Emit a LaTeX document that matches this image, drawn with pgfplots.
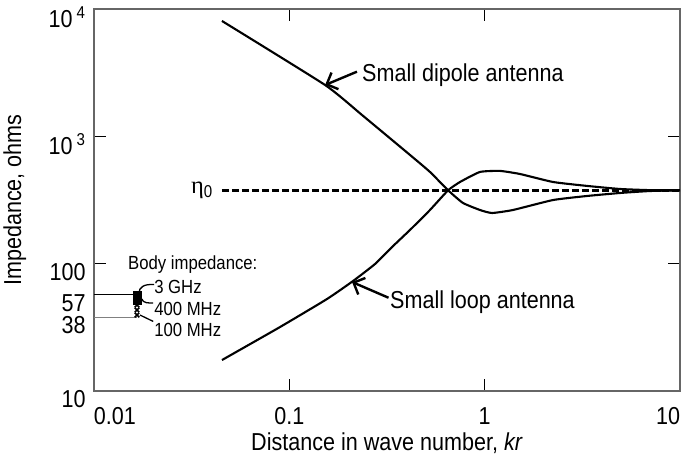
\documentclass[border=0pt]{standalone}
\usepackage{fontspec}
\setmainfont{Liberation Sans}[FakeStretch=0.88]
\newfontfamily\grk{Liberation Serif}
\usepackage{pgfplots}
\pgfplotsset{compat=1.18}
\usetikzlibrary{arrows.meta}
\begin{document}
\fontsize{24.5}{28}\selectfont
\begin{tikzpicture}
\begin{axis}[name=ax, scale only axis, width=586pt, height=382pt,
 xmode=log, ymode=log, xmin=0.01, xmax=10, ymin=10, ymax=10000,
 xtick={0.01,0.1,1,10},
 xticklabels={\makebox[0pt][l]{0.01},0.1,1,\makebox[0pt][r]{10}},
 ytick={10,100,1000,10000},
 yticklabels={10,100,10\,\textsuperscript{3},10\,\textsuperscript{4}},
 extra y ticks={38,57}, extra y tick labels={38,57},
 extra y tick style={major tick length=0pt},
 xminorticks=false, yminorticks=false,
 tick align=inside, major tick length=12pt,
 tick style={black, line width=0.9pt},
 axis line style={line width=1.2pt, black!60},
 xlabel={Distance in wave number, \textit{kr}},
 ylabel={Impedance, ohms},
 every axis x label/.style={at={(axis description cs:0.5,-0.136)}, anchor=center},
 every axis y label/.style={at={(axis description cs:-0.135,0.5)}, rotate=90, anchor=center},
 x tick label style={anchor=center, yshift=-25pt},
 y tick label style={yshift=-8pt},
 /pgf/number format/assume math mode=true,
 clip=false,
]
% small dipole antenna
\addplot[black, line width=2.1pt, smooth, tension=0.3] coordinates {
 (0.0452,8054) (0.1524,2530) (0.2355,1471) (0.4148,714)
 (0.525,525) (0.65,377) (0.774,300) (0.946,264) (1.09,250)
 (1.397,264) (2.238,316) (3.34,340) (4.93,359) (7.02,372) (10,377)};
% small loop antenna
\addplot[black, line width=2.1pt, smooth, tension=0.3] coordinates {
 (0.0452,17.5) (0.0896,31.8) (0.156,52.8) (0.212,73.1) (0.2746,99.4)
 (0.3355,135) (0.4148,184) (0.525,264) (0.65,377) (0.748,438)
 (0.946,525) (1.198,535) (1.517,506) (2.238,438) (3.34,408)
 (4.93,386) (7.02,378) (10,377)};
% eta0
\addplot[black, line width=3.2pt, dash pattern=on 7pt off 3pt] coordinates {(0.0452,377) (10,377)};
% body impedance
\addplot[black, line width=1.1pt] coordinates {(0.01,57) (0.0166,57)};
\addplot[black!50, line width=1.1pt] coordinates {(0.01,38) (0.0166,38)};
\addplot[only marks, mark=x, mark size=3.2pt, line width=1.6pt, black] coordinates {(0.0166,47.3) (0.0166,43.3) (0.0166,39.5)};
\addplot[only marks, mark=square*, mark size=4pt, black] coordinates {(0.0166,56.5) (0.0166,51.5)};

\node[anchor=east, inner sep=0pt] at (axis cs:0.0407,377) {{\grk η}\textsubscript{0}};
\node[anchor=west, inner sep=0pt] at (axis cs:0.2355,3035) {Small dipole antenna};
\draw[line width=2.4pt, -{Straight Barb[length=9pt,width=18pt]}] (axis cs:0.222,3220) -- (axis cs:0.1525,2530);
\node[anchor=west, inner sep=0pt] at (axis cs:0.3276,50.0) {Small loop antenna};
\draw[line width=2.4pt, -{Straight Barb[length=9pt,width=18pt]}] (axis cs:0.322,54.0) -- (axis cs:0.2094,71.8);

\begin{scope}[font=\fontsize{19}{22}\selectfont]
\node[anchor=west, inner sep=0pt] at (axis cs:0.01493,97.6) {Body impedance:};
\node[anchor=west, inner sep=0pt] at (axis cs:0.0203,65.6) {3 GHz};
\node[anchor=west, inner sep=0pt] at (axis cs:0.0203,44.1) {400 MHz};
\node[anchor=west, inner sep=0pt] at (axis cs:0.0203,30.1) {100 MHz};
\end{scope}
\draw[line width=1.3pt] (axis cs:0.0203,68.5) .. controls (axis cs:0.0180,69.5) and (axis cs:0.0170,65) .. (axis cs:0.0170,59);
\draw[line width=1.3pt] (axis cs:0.01759,52.8) .. controls (axis cs:0.0178,49) and (axis cs:0.019,49) .. (axis cs:0.0201,49.1);
\draw[line width=1.3pt] (axis cs:0.01720,39.5) -- (axis cs:0.0201,35.2);
\end{axis}
\pgfresetboundingbox
\path[use as bounding box] ([xshift=-94pt,yshift=-70pt]ax.south west) rectangle ([xshift=2pt,yshift=9pt]ax.north east);
\end{tikzpicture}
\end{document}
